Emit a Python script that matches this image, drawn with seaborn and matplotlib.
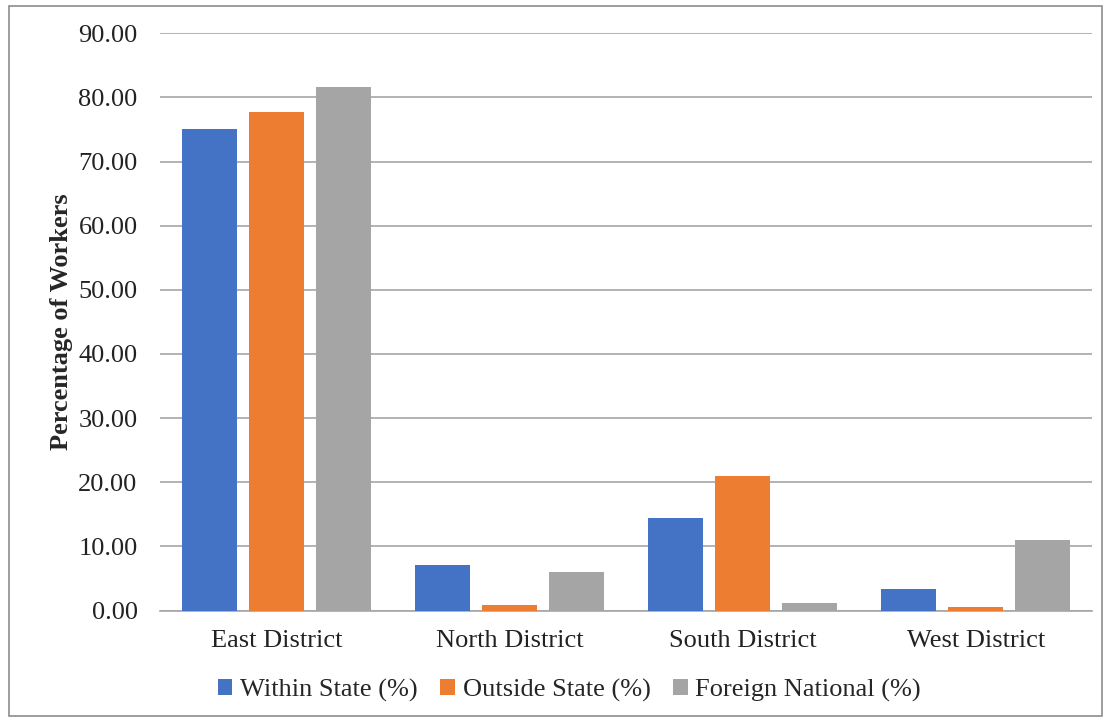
import matplotlib
matplotlib.use("Agg")
import matplotlib.pyplot as plt
import seaborn as sns
import pandas as pd
from matplotlib.patches import Rectangle

districts = ["East District", "North District", "South District", "West District"]
series = ["Within State (%)", "Outside State (%)", "Foreign National (%)"]
within_state = [75.1, 7.1, 14.5, 3.4]
outside_state = [77.7, 0.8, 21.0, 0.5]
foreign_national = [81.6, 6.0, 1.2, 11.0]
colors = ["#4472C4", "#ED7D31", "#A5A5A5"]
yticks = [0, 10, 20, 30, 40, 50, 60, 70, 80, 90]

rows = []
for s, vals in zip(series, [within_state, outside_state, foreign_national]):
    for d, v in zip(districts, vals):
        rows.append({"District": d, "Series": s, "Value": v})
df = pd.DataFrame(rows)

sns.set_style("white")
plt.rcParams["font.family"] = ["Liberation Serif", "DejaVu Serif"]

fig = plt.figure(figsize=(11.1, 7.22), dpi=100)
ax = fig.add_axes([0.144, 0.1544, 0.84, 0.7996])
sns.barplot(data=df, x="District", y="Value", hue="Series", palette=colors,
            width=0.86, gap=0.18, ax=ax, saturation=1, errorbar=None, zorder=3,
            edgecolor="none")

ax.set_ylim(0, 90)
ax.set_yticks(yticks)
ax.set_yticklabels([f"{v:.2f}" for v in yticks], fontsize=19, color="#222222")
ax.tick_params(axis="x", labelsize=19, colors="#222222", length=0, pad=14)
ax.tick_params(axis="y", length=0, pad=16)
ax.grid(axis="y", color="#a6a6a6", linewidth=1.2, zorder=0)
ax.set_axisbelow(True)
for sp in ["top", "right", "left"]:
    ax.spines[sp].set_visible(False)
ax.spines["bottom"].set_color("#a6a6a6")
ax.spines["bottom"].set_linewidth(1.2)
ax.set_xlabel("")
ax.set_ylabel("Percentage of Workers", fontsize=19, fontweight="bold", labelpad=4)

handles, labels = ax.get_legend_handles_labels()
ax.legend(handles, labels, loc="center", bbox_to_anchor=(0.513, 0.044), bbox_transform=fig.transFigure,
          ncol=3, frameon=False, fontsize=19, handlelength=0.55, handleheight=0.55,
          handletextpad=0.3, columnspacing=0.85)

fig.patches.append(Rectangle((0.008, 0.008), 0.985, 0.984, transform=fig.transFigure,
                             fill=False, edgecolor="#8c8c8c", linewidth=1.2))
fig.savefig("out.png", dpi=100)
